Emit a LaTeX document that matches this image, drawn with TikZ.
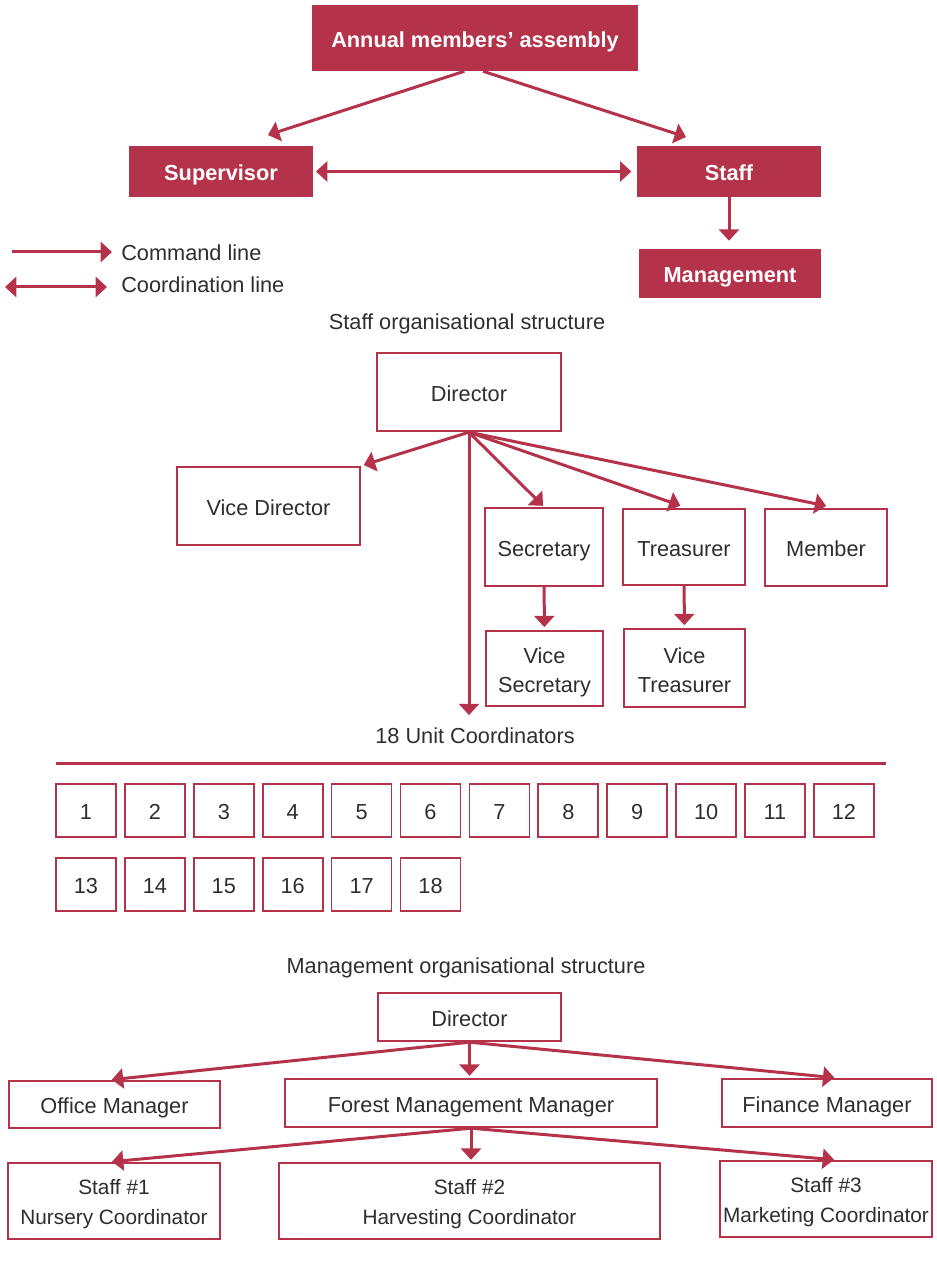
\documentclass[tikz,border=0pt]{standalone}
\usepackage{fontspec}
\setmainfont{Liberation Sans}
\usepackage{tikz}
\usetikzlibrary{arrows.meta}
\definecolor{brand}{HTML}{B5334A}
\definecolor{ink}{HTML}{2E2E2E}
\newcommand\boxfont{\fontsize{16.3}{21.75}\selectfont}

\begin{document}
\begin{tikzpicture}[
  x=0.75pt,y=-0.75pt,
  every node/.style={font=\boxfont,text=ink,align=center,inner sep=0pt,text height=13.9pt,text depth=0pt},
  twoline/.style={text height=36.5pt,text depth=0pt},
  staffline/.style={font=\fontsize{15.6}{22.5}\selectfont,text height=35.2pt,text depth=0pt},
  head/.style={fill=brand,text=white,font=\boxfont\bfseries},
  box/.style={draw=brand,line width=1.8pt,fill=white},
  unit/.style={draw=brand,line width=1.3pt,minimum width=45pt,minimum height=39.75pt},
  cmd/.style={-{Triangle[length=8.5pt,width=15pt]},line width=2.25pt,draw=brand},
  coord/.style={{Triangle[length=8.5pt,width=15pt]}-{Triangle[length=8.5pt,width=15pt]},line width=2.25pt,draw=brand}
]
\useasboundingbox (0,0) rectangle (936,1276);

% governing bodies
\node[head,minimum width=244.5pt,minimum height=49.5pt] (assembly) at (475,38) {Annual members’ assembly};
\node[head,minimum width=138pt,minimum height=38.25pt] (super) at (221,171.5) {Supervisor};
\node[head,minimum width=138pt,minimum height=38.25pt] (staff) at (729,171.5) {Staff};
\node[head,minimum width=136.5pt,minimum height=36.75pt] (mgmt) at (730,273.5) {Management};
\coordinate (superTip) at (268,135);
\coordinate (staffTip) at (686,137);
\draw[cmd] ([xshift=-8pt]assembly.south) -- (superTip);
\draw[cmd] ([xshift=6pt]assembly.south) -- (staffTip);
\draw[coord,shorten <=2pt,shorten >=4pt] (super) -- (staff);
\draw[cmd,shorten >=6pt] (staff) -- (staff |- mgmt.north);

% legend
\node[anchor=west] (cmdText) at (121,251) {Command line};
\node[anchor=west] (coordText) at (121,283) {Coordination line};
\coordinate (cmdA) at (12,252);
\coordinate (coordA) at (5,287);
\coordinate (coordB) at (107,287);
\draw[cmd,shorten >=6.75pt] (cmdA) -- (cmdText.west |- cmdA);
\draw[coord] (coordA) -- (coordB);

% staff organisational structure
\node (staffTitle) at (467,320) {Staff organisational structure};
\node[box,minimum width=138pt,minimum height=58.5pt] (dir) at (469,392) {Director};
\node[box,minimum width=137.25pt,minimum height=58.5pt] (vdir) at (268.5,506) {Vice Director};
\node[box,minimum width=88.5pt,minimum height=58.5pt] (sec) at (544,547) {Secretary};
\node[box,minimum width=91.5pt,minimum height=57pt] (tre) at (684,547) {Treasurer};
\node[box,minimum width=91.5pt,minimum height=57.75pt] (mem) at (826,547.5) {Member};
\node[box,twoline,minimum width=87.75pt,minimum height=56.25pt] (vsec) at (544.5,668.5) {Vice\\Secretary};
\node[box,twoline,minimum width=90.75pt,minimum height=58.5pt] (vtre) at (684.5,668) {Vice\\Treasurer};
\node (units) at (475,734) {18 Unit Coordinators};
\draw[cmd,shorten >=2pt] (dir.south) -- (vdir.north east);
\draw[cmd,shorten >=1pt] (dir.south) -- (sec.north);
\draw[cmd,shorten >=5pt] (dir.south) -- ([xshift=2pt]tre.north);
\draw[cmd,shorten >=7pt] (dir.south) -- ([xshift=7pt]mem.north);
\draw[cmd,shorten >=7pt] (dir.south) -- (dir.south |- units.north);
\draw[cmd,shorten >=2pt] (sec) -- (vsec);
\draw[cmd,shorten >=2pt] (tre) -- (vtre);

% unit coordinators
\draw[brand,line width=2.25pt] (56,763) -- (886,763);
\foreach \n in {1,...,18}{
  \pgfmathtruncatemacro\col{mod(\n-1,12)}
  \pgfmathtruncatemacro\row{(\n-1)/12}
  \node[unit] (u\n) at ({86+68.9*\col},{810.5+74*\row}) {\n};
}

% management organisational structure
\node (mgmtTitle) at (466,964) {Management organisational structure};
\node[box,minimum width=137.25pt,minimum height=36pt] (mdir) at (469.5,1017) {Director};
\node[box,minimum width=158.25pt,minimum height=35.25pt] (office) at (114.5,1104.5) {Office Manager};
\node[box,minimum width=279pt,minimum height=36pt] (forest) at (471,1103) {Forest Management Manager};
\node[box,minimum width=157.5pt,minimum height=36pt] (finance) at (827,1103) {Finance Manager};
\node[box,staffline,minimum width=159pt,minimum height=57pt] (s1) at (114,1201) {Staff \#1\\Nursery Coordinator};
\node[box,staffline,minimum width=285.75pt,minimum height=57pt] (s2) at (469.5,1201) {Staff \#2\\Harvesting Coordinator};
\node[box,staffline,minimum width=159pt,minimum height=57pt] (s3) at (826,1199) {Staff \#3\\Marketing Coordinator};
\draw[cmd,shorten >=1pt] (mdir.south) -- ([xshift=-3pt]office.north);
\draw[cmd,shorten >=1.5pt] (mdir.south) -- (mdir.south |- forest.north);
\draw[cmd,shorten >=1pt] (mdir.south) -- ([xshift=6.5pt]finance.north);
\draw[cmd,shorten >=1pt] (forest.south) -- ([xshift=-2.5pt]s1.north);
\draw[cmd,shorten >=1.5pt] (forest.south) -- (forest.south |- s2.north);
\draw[cmd,shorten >=1pt] (forest.south) -- ([xshift=7pt]s3.north);
\end{tikzpicture}
\end{document}
